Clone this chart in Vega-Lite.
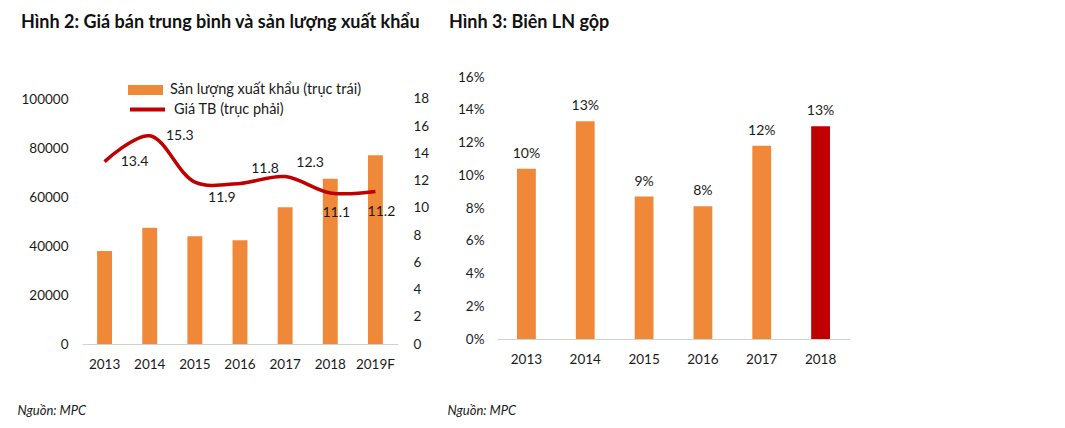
{
  "$schema": "https://vega.github.io/schema/vega-lite/v6.json",
  "padding": {"left": 17, "top": 13, "right": 5, "bottom": 5},
  "background": "white",
  "config": {
    "font": "Lato",
    "view": {"stroke": null},
    "axis": {"labelFont": "Lato", "labelFontSize": 13.5, "labelColor": "#1a1a1a", "grid": false, "ticks": false, "domain": false, "titleFont": "Lato", "titleFontStyle": "italic", "titleFontSize": 13, "titleColor": "#1a1a1a", "titleFontWeight": "normal"},
    "title": {"font": "Lato", "fontSize": 18, "fontWeight": "bold", "color": "#111111", "anchor": "start", "frame": "group", "baseline": "alphabetic"},
    "legend": {"labelFont": "Lato", "labelFontSize": 14.5, "labelColor": "#1a1a1a", "padding": 0, "labelOffset": 7, "labelLimit": 0}
  },
  "datasets": {
    "exports": [
      {"year": "2013", "volume": 38000, "price": 13.4},
      {"year": "2014", "volume": 47400, "price": 15.3},
      {"year": "2015", "volume": 44000, "price": 11.9},
      {"year": "2016", "volume": 42300, "price": 11.8},
      {"year": "2017", "volume": 55800, "price": 12.3},
      {"year": "2018", "volume": 67500, "price": 11.1},
      {"year": "2019F", "volume": 77000, "price": 11.2}
    ],
    "margin": [
      {"year": "2013", "margin": 0.104},
      {"year": "2014", "margin": 0.133},
      {"year": "2015", "margin": 0.087},
      {"year": "2016", "margin": 0.081},
      {"year": "2017", "margin": 0.118},
      {"year": "2018", "margin": 0.130}
    ]
  },
  "spacing": 18,
  "hconcat": [
    {
      "width": 316,
      "height": 267,
      "title": {"text": "Hình 2: Giá bán trung bình và sản lượng xuất khẩu", "offset": 45, "dx": -61},
      "data": {"name": "exports"},
      "encoding": {
        "x": {"field": "year", "type": "ordinal", "sort": null,
          "scale": {"paddingInner": 0.67, "paddingOuter": 0.335},
          "axis": {"title": "Nguồn: MPC", "labelAngle": 0, "domain": true, "domainColor": "#c9d6c9", "labelPadding": 13, "titleX": -65, "titleY": 70, "titleAlign": "left", "titleAnchor": null, "titleBaseline": "alphabetic"}}
      },
      "layer": [
        {
          "mark": {"type": "bar"},
          "encoding": {
            "y": {"field": "volume", "type": "quantitative", "scale": {"domain": [0, 108980], "nice": false},
              "axis": {"title": null, "values": [0, 20000, 40000, 60000, 80000, 100000], "format": "d", "labelPadding": 14}},
            "fill": {"datum": "Sản lượng xuất khẩu (trục trái)", "type": "nominal", "scale": {"range": ["#F0883A"]},
              "legend": {"title": null, "orient": "none", "legendX": 46, "legendY": -4.5, "symbolType": "M-1,-0.2857H1V0.2857H-1Z", "symbolSize": 1225, "symbolStrokeWidth": 0}}
          }
        },
        {
          "encoding": {
            "y": {"field": "price", "type": "quantitative", "scale": {"domain": [0, 19.616], "nice": false},
              "axis": {"title": null, "orient": "right", "values": [0, 2, 4, 6, 8, 10, 12, 14, 16, 18], "format": "d", "labelPadding": 15}}
          },
          "layer": [
            {
              "mark": {"type": "line", "interpolate": "catmull-rom", "strokeWidth": 3.5},
              "encoding": {
                "stroke": {"datum": "Giá TB (trục phải)", "type": "nominal", "scale": {"range": ["#C00000"]},
                  "legend": {"title": null, "orient": "none", "legendX": 46, "legendY": 13, "symbolType": "stroke", "symbolSize": 1225, "symbolStrokeWidth": 4}}
              }
            },
            {
              "transform": [{"filter": "datum.year === '2013' || datum.year === '2014'"}],
              "mark": {"type": "text", "dx": 30, "dy": 0, "fontSize": 14, "color": "#1a1a1a"},
              "encoding": {"text": {"field": "price", "type": "quantitative", "format": ".1f"}}
            },
            {
              "transform": [{"filter": "datum.year === '2015'"}],
              "mark": {"type": "text", "dx": 27, "dy": 16, "fontSize": 14, "color": "#1a1a1a"},
              "encoding": {"text": {"field": "price", "type": "quantitative", "format": ".1f"}}
            },
            {
              "transform": [{"filter": "datum.year === '2016' || datum.year === '2017'"}],
              "mark": {"type": "text", "dx": 25, "dy": -14, "fontSize": 14, "color": "#1a1a1a"},
              "encoding": {"text": {"field": "price", "type": "quantitative", "format": ".1f"}}
            },
            {
              "transform": [{"filter": "datum.year === '2018' || datum.year === '2019F'"}],
              "mark": {"type": "text", "dx": 6, "dy": 20, "fontSize": 14, "color": "#1a1a1a"},
              "encoding": {"text": {"field": "price", "type": "quantitative", "format": ".1f"}}
            }
          ]
        }
      ],
      "resolve": {"scale": {"y": "independent"}}
    },
    {
      "width": 353,
      "height": 262,
      "title": {"text": "Hình 3: Biên LN gộp", "offset": 38.5, "dx": -48},
      "data": {"name": "margin"},
      "encoding": {
        "x": {"field": "year", "type": "ordinal", "sort": null,
          "scale": {"paddingInner": 0.68, "paddingOuter": 0.34},
          "axis": {"title": "Nguồn: MPC", "labelAngle": 0, "domain": true, "domainColor": "#c9d6c9", "labelPadding": 13, "titleX": -50, "titleY": 75, "titleAlign": "left", "titleAnchor": null, "titleBaseline": "alphabetic"}},
        "y": {"field": "margin", "type": "quantitative", "scale": {"domain": [0, 0.16]},
          "axis": {"title": null, "values": [0, 0.02, 0.04, 0.06, 0.08, 0.1, 0.12, 0.14, 0.16], "format": ".0%", "labelPadding": 13}}
      },
      "layer": [
        {
          "mark": {"type": "bar"},
          "encoding": {
            "fill": {"condition": {"test": "datum.year === '2018'", "value": "#C00000"}, "value": "#F0883A"}
          }
        },
        {
          "mark": {"type": "text", "baseline": "bottom", "dy": -8, "fontSize": 14, "color": "#1a1a1a"},
          "encoding": {"text": {"field": "margin", "type": "quantitative", "format": ".0%"}}
        }
      ]
    }
  ]
}
